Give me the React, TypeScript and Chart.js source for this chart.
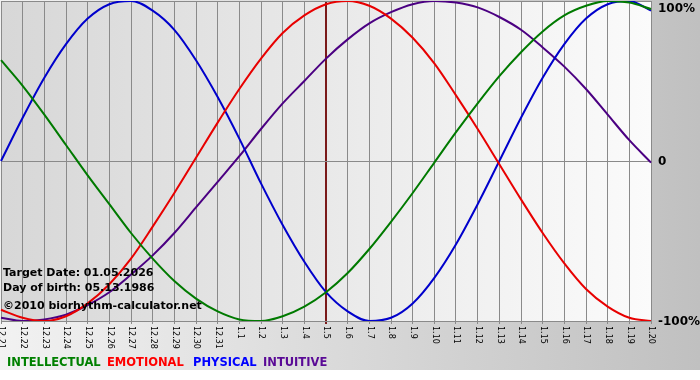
import React, { useEffect, useRef } from "react";
import { Chart, registerables } from "chart.js";

Chart.register(...registerables);

const dayLabels = [
  "12.21", "12.22", "12.23", "12.24", "12.25", "12.26", "12.27", "12.28", "12.29", "12.30", "12.31",
  "1.1", "1.2", "1.3", "1.4", "1.5", "1.6", "1.7", "1.8", "1.9", "1.10",
  "1.11", "1.12", "1.13", "1.14", "1.15", "1.16", "1.17", "1.18", "1.19", "1.20",
];

const intellectual = [63, 47, 29, 10, -9, -27, -45, -61, -75, -86, -94, -99, -100, -97, -91, -82, -70, -55, -38, -20, -1, 18, 36, 53, 68, 81, 91, 97, 100, 99, 95];
const emotional = [-93, -98, -100, -97, -89, -77, -61, -41, -20, 2, 24, 45, 64, 80, 91, 98, 100, 97, 89, 77, 61, 41, 20, -2, -24, -45, -64, -80, -91, -98, -100];
const physical = [0, 27, 52, 73, 89, 98, 100, 94, 82, 63, 40, 14, -14, -40, -63, -82, -94, -100, -98, -89, -73, -52, -27, 0, 27, 52, 73, 89, 98, 100, 94];
const intuitive = [-98, -100, -99, -96, -90, -82, -71, -59, -45, -29, -13, 3, 20, 36, 50, 64, 76, 86, 93, 98, 100, 99, 96, 90, 82, 71, 59, 45, 29, 13, -1];

const yTickValues = [100, 0, -100];
const yTickLabels = ["100%", "0", "-100%"];
const targetIndex = 15;

const infoLines = ["Target Date: 01.05.2026", "Day of birth: 05.13.1986", "\u00A92010 biorhythm-calculator.net"];
const legendNames = ["INTELLECTUAL", "EMOTIONAL", "PHYSICAL", "INTUITIVE"];
const legendColors = ["#008000", "#ff0000", "#0000ff", "#5a0a96"];
const legendX = [7, 107, 193, 263];

const decorPlugin = {
  id: "decor",
  beforeDraw(chart: any) {
    const { ctx, chartArea, width } = chart;
    ctx.save();
    ctx.fillStyle = "#ffffff";
    ctx.fillRect(0, 0, width, chart.height);
    const g = ctx.createLinearGradient(0, 0, width, 0);
    g.addColorStop(0, "#f2f2f2");
    g.addColorStop(1, "#c0c0c0");
    ctx.fillStyle = g;
    ctx.fillRect(0, 0, width, 370);
    const g2 = ctx.createLinearGradient(chartArea.left, 0, chartArea.right, 0);
    g2.addColorStop(0, "#d7d7d7");
    g2.addColorStop(1, "#fbfbfb");
    ctx.fillStyle = g2;
    ctx.fillRect(chartArea.left, chartArea.top, chartArea.right - chartArea.left, chartArea.bottom - chartArea.top);
    ctx.restore();
  },
  afterDraw(chart: any) {
    const { ctx, chartArea } = chart;
    const xs = chart.scales.x;
    const ys = chart.scales.y;
    ctx.save();
    // x labels rotated clockwise
    ctx.fillStyle = "#000000";
    ctx.font = "8px 'DejaVu Sans'";
    ctx.textAlign = "left";
    ctx.textBaseline = "middle";
    dayLabels.forEach((lab, i) => {
      const x = xs.getPixelForValue(i);
      ctx.save();
      ctx.translate(x + 0.5, chartArea.bottom + 5);
      ctx.rotate(Math.PI / 2);
      ctx.fillText(lab, 0, 0);
      ctx.restore();
    });
    // y labels
    ctx.font = "bold 12px 'DejaVu Sans'";
    ctx.textBaseline = "middle";
    yTickValues.forEach((v, i) => {
      let y = ys.getPixelForValue(v);
      if (y < chartArea.top + 7) y = chartArea.top + 7;
      ctx.fillText(yTickLabels[i], chartArea.right + 7, y + 1);
    });
    // info text
    ctx.font = "bold 11px 'DejaVu Sans'";
    ctx.textBaseline = "alphabetic";
    const baselines = [276, 291, 309];
    infoLines.forEach((t, i) => ctx.fillText(t, 3, baselines[i]));
    // legend
    ctx.font = "bold 11.5px 'DejaVu Sans'";
    legendNames.forEach((t, i) => {
      ctx.fillStyle = legendColors[i];
      ctx.fillText(t, legendX[i], 366);
    });
    ctx.restore();
  },
};

export default function App() {
  const ref = useRef<HTMLCanvasElement>(null);
  useEffect(() => {
    document.body.style.margin = "0";
    const chart = new Chart(ref.current!, {
      type: "line",
      data: {
        labels: dayLabels,
        datasets: [
          { label: "INTELLECTUAL", data: intellectual, borderColor: "#007a00" },
          { label: "EMOTIONAL", data: emotional, borderColor: "#e80000" },
          { label: "PHYSICAL", data: physical, borderColor: "#0000cc" },
          { label: "INTUITIVE", data: intuitive, borderColor: "#4b0082" },
        ].map((d) => ({
          ...d,
          borderWidth: 2,
          pointRadius: 0,
          fill: false,
          tension: 0.4,
          cubicInterpolationMode: "monotone" as const,
        })),
      },
      options: {
        animation: false,
        responsive: false,
        events: [],
        layout: { padding: { left: 1, right: 49, top: 1, bottom: 56 } },
        plugins: { legend: { display: false }, tooltip: { enabled: false } },
        scales: {
          x: {
            offset: false,
            border: { display: false },
            ticks: { display: false },
            grid: {
              color: (c: any) => (c.index === targetIndex ? "#7a1a1a" : "#8a8a8a"),
              lineWidth: (c: any) => (c.index === targetIndex ? 2 : 1),
              drawTicks: true,
              tickLength: 3,
            },
          },
          y: {
            position: "right",
            min: -100,
            max: 100,
            border: { display: false },
            ticks: { display: false, stepSize: 100 },
            grid: { color: "#8a8a8a", drawTicks: false },
          },
        },
      },
      plugins: [decorPlugin],
    });
    return () => chart.destroy();
  }, []);
  return (
    <div style={{ position: "absolute", left: 0, top: 0, width: 700, height: 380 }}>
      <canvas ref={ref} width={700} height={380} />
    </div>
  );
}
